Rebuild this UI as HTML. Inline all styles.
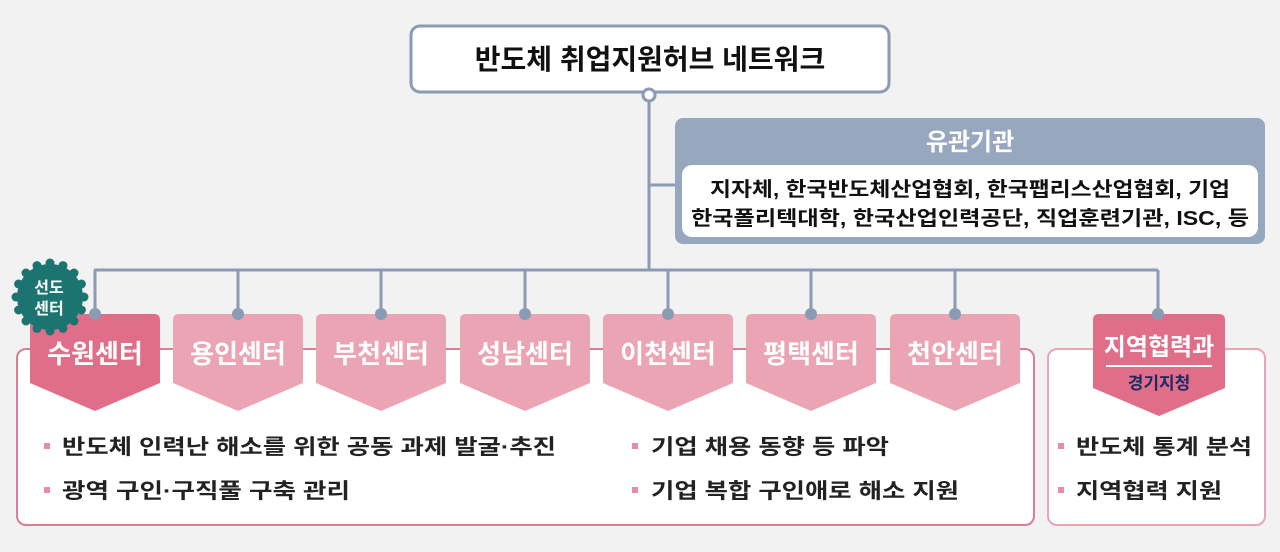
<!DOCTYPE html>
<html><head><meta charset="utf-8"><style>
html,body{margin:0;padding:0;background:#f2f2f2;}
svg{display:block;}
text{font-family:"Liberation Sans","Noto Sans CJK KR",sans-serif;font-weight:bold;}
</style></head><body>
<svg width="1280" height="552" viewBox="0 0 1280 552" xmlns="http://www.w3.org/2000/svg">
<rect width="1280" height="552" fill="#f2f2f2"/>
<g stroke="#8a9bb3" stroke-width="3" fill="none">
<line x1="649" y1="98" x2="649" y2="270"/>
<line x1="649" y1="185" x2="676" y2="185"/>
<line x1="94" y1="270" x2="1158" y2="270"/>
<line x1="95" y1="270" x2="95" y2="314"/>
<line x1="238" y1="270" x2="238" y2="314"/>
<line x1="381" y1="270" x2="381" y2="314"/>
<line x1="525" y1="270" x2="525" y2="314"/>
<line x1="668" y1="270" x2="668" y2="314"/>
<line x1="811" y1="270" x2="811" y2="314"/>
<line x1="955" y1="270" x2="955" y2="314"/>
<line x1="1158" y1="270" x2="1158" y2="314"/>
</g>
<rect x="411" y="26" width="478" height="66" rx="9" fill="#fff" stroke="#8a9bb3" stroke-width="3"/>
<text x="650" y="69" font-size="28" text-anchor="middle" fill="#111">반도체 취업지원허브 네트워크</text>
<circle cx="649" cy="95" r="6" fill="#fff" stroke="#8a9bb3" stroke-width="3"/>
<rect x="675" y="118" width="590" height="126" rx="8" fill="#97a7bd"/>
<text x="970" y="150" font-size="24" text-anchor="middle" fill="#fff">유관기관</text>
<rect x="682" y="165" width="576" height="72" rx="10" fill="#fff"/>
<text x="970" y="196" font-size="20" text-anchor="middle" fill="#111" textLength="520" lengthAdjust="spacingAndGlyphs">지자체, 한국반도체산업협회, 한국팹리스산업협회, 기업</text>
<text x="970" y="225" font-size="20" text-anchor="middle" fill="#111" textLength="558" lengthAdjust="spacingAndGlyphs">한국폴리텍대학, 한국산업인력공단, 직업훈련기관, ISC, 등</text>
<rect x="17" y="349" width="1017" height="176" rx="9" fill="#fff" stroke="#e07b95" stroke-width="2"/>
<rect x="1048" y="349" width="217" height="176" rx="9" fill="#fff" stroke="#eba4b4" stroke-width="2"/>
<g>
<path d="M36,314 h118 q6,0 6,6 V383 L95,411 L30,383 V320 q0,-6 6,-6 Z" fill="#e06e88"/>
<path d="M179,314 h118 q6,0 6,6 V383 L238,411 L173,383 V320 q0,-6 6,-6 Z" fill="#eba4b4"/>
<path d="M322,314 h118 q6,0 6,6 V383 L381,411 L316,383 V320 q0,-6 6,-6 Z" fill="#eba4b4"/>
<path d="M466,314 h118 q6,0 6,6 V383 L525,411 L460,383 V320 q0,-6 6,-6 Z" fill="#eba4b4"/>
<path d="M609,314 h118 q6,0 6,6 V383 L668,411 L603,383 V320 q0,-6 6,-6 Z" fill="#eba4b4"/>
<path d="M752,314 h118 q6,0 6,6 V383 L811,411 L746,383 V320 q0,-6 6,-6 Z" fill="#eba4b4"/>
<path d="M896,314 h118 q6,0 6,6 V383 L955,411 L890,383 V320 q0,-6 6,-6 Z" fill="#eba4b4"/>
<path d="M1099,314 h120 q6,0 6,6 V388 L1159,416 L1093,388 V320 q0,-6 6,-6 Z" fill="#e06e88"/>
</g>
<g font-size="26" fill="#fff" text-anchor="middle">
<text x="95" y="363">수원센터</text>
<text x="238" y="363">용인센터</text>
<text x="381" y="363">부천센터</text>
<text x="525" y="363">성남센터</text>
<text x="668" y="363">이천센터</text>
<text x="811" y="363">평택센터</text>
<text x="955" y="363">천안센터</text>
<text x="1159" y="355" font-size="24">지역협력과</text>
</g>
<line x1="1106" y1="366" x2="1212" y2="366" stroke="#fff" stroke-width="2"/>
<text x="1159" y="389" font-size="17" fill="#1f2a66" text-anchor="middle">경기지청</text>
<g fill="#8a9bb3">
<circle cx="95" cy="314" r="6"/><circle cx="238" cy="314" r="6"/><circle cx="381" cy="314" r="6"/>
<circle cx="525" cy="314" r="6"/><circle cx="668" cy="314" r="6"/><circle cx="811" cy="314" r="6"/>
<circle cx="955" cy="314" r="6"/><circle cx="1158" cy="314" r="6"/>
</g>
<g fill="#1c7470">
<circle cx="50" cy="297" r="33"/>
<circle cx="84" cy="297" r="4.5"/><circle cx="81.4" cy="310" r="4.5"/><circle cx="74" cy="321" r="4.5"/><circle cx="63" cy="328.4" r="4.5"/>
<circle cx="50" cy="331" r="4.5"/><circle cx="37" cy="328.4" r="4.5"/><circle cx="26" cy="321" r="4.5"/><circle cx="18.6" cy="310" r="4.5"/>
<circle cx="16" cy="297" r="4.5"/><circle cx="18.6" cy="284" r="4.5"/><circle cx="26" cy="273" r="4.5"/><circle cx="37" cy="265.6" r="4.5"/>
<circle cx="50" cy="263" r="4.5"/><circle cx="63" cy="265.6" r="4.5"/><circle cx="74" cy="273" r="4.5"/><circle cx="81.4" cy="284" r="4.5"/>
</g>
<text x="49" y="293" font-size="16" fill="#fff" text-anchor="middle">선도</text>
<text x="49" y="314" font-size="16" fill="#fff" text-anchor="middle">센터</text>
<g fill="#e88ca8">
<rect x="44" y="443" width="6" height="6"/><rect x="44" y="487" width="6" height="6"/>
<rect x="632" y="443" width="6" height="6"/><rect x="632" y="487" width="6" height="6"/>
<rect x="1058" y="443" width="6" height="6"/><rect x="1058" y="487" width="6" height="6"/>
</g>
<g font-size="21" fill="#222">
<text x="62" y="454" textLength="494" lengthAdjust="spacingAndGlyphs">반도체 인력난 해소를 위한 공동 과제 발굴·추진</text>
<text x="62" y="498" textLength="288" lengthAdjust="spacingAndGlyphs">광역 구인·구직풀 구축 관리</text>
<text x="651" y="454" textLength="238" lengthAdjust="spacingAndGlyphs">기업 채용 동향 등 파악</text>
<text x="651" y="498" textLength="308" lengthAdjust="spacingAndGlyphs">기업 복합 구인애로 해소 지원</text>
<text x="1076" y="454" textLength="176" lengthAdjust="spacingAndGlyphs">반도체 통계 분석</text>
<text x="1076" y="498" textLength="146" lengthAdjust="spacingAndGlyphs">지역협력 지원</text>
</g>
</svg>
</body></html>
